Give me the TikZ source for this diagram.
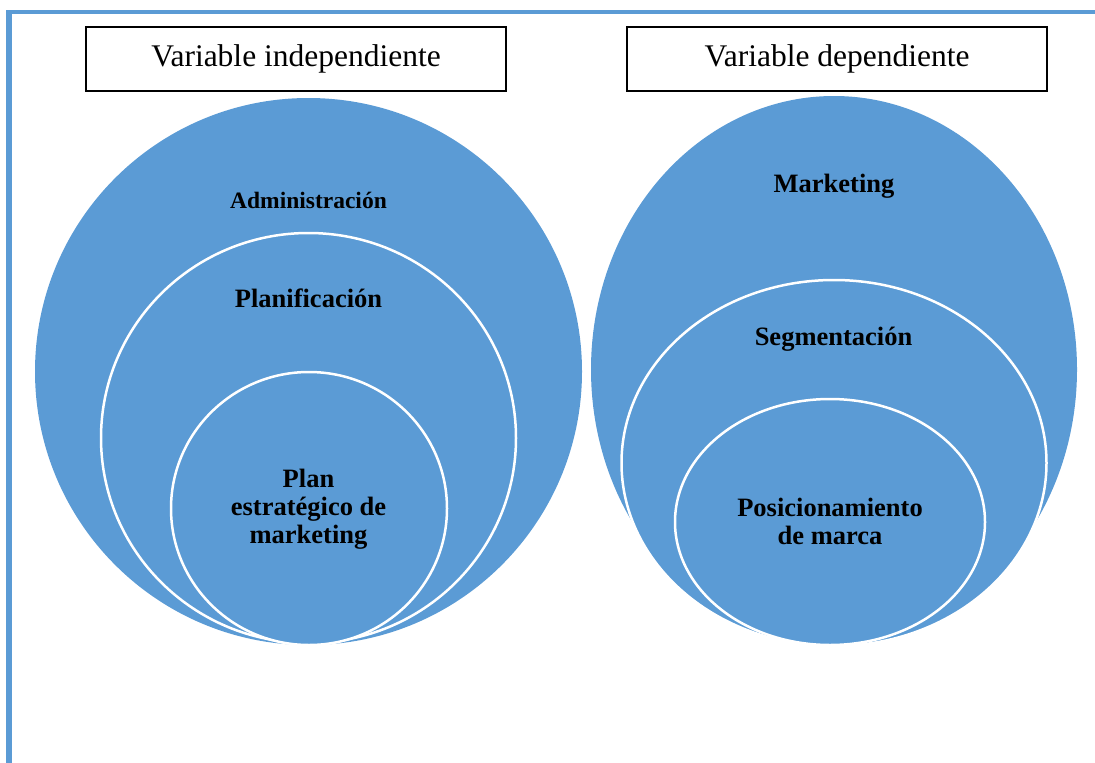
\documentclass[tikz,border=0pt]{standalone}
\usepackage{fontspec}
\setmainfont{Liberation Serif}
\usetikzlibrary{shapes.geometric}
\definecolor{officeblue}{HTML}{5B9BD5}
\tikzset{
  outerell/.style={ellipse, fill=officeblue, draw=none, inner sep=0pt, outer sep=0pt},
  innerell/.style={ellipse, fill=officeblue, draw=white, line width=2.5pt, inner sep=0pt, outer sep=0pt},
  varbox/.style={draw=black, line width=1.5pt, inner sep=0pt, outer sep=0pt, minimum width=420pt, minimum height=64pt, font=\fontsize{31.5}{34}\selectfont},
  bigtxt/.style={font=\bfseries\fontsize{26.5}{28}\selectfont, align=center, inner sep=0pt},
  smalltxt/.style={font=\bfseries\fontsize{23.5}{26}\selectfont, align=center, inner sep=0pt}
}
\begin{document}
\begin{tikzpicture}[x=1pt,y=-1pt]
\useasboundingbox (0,0) rectangle (1095,763);
% frame lines
\fill[officeblue] (6,9.5) rectangle (1095,14);
\fill[officeblue] (6,9.5) rectangle (12,763);
% header boxes
\node[varbox] (vi) at (296,59) {Variable independiente};
\node[varbox] (vd) at (837,59) {Variable dependiente};
% left circles
\node[outerell, minimum width=547pt, minimum height=547pt] (adm) at (308.5,371.5) {};
\node[innerell, minimum width=415pt, minimum height=410pt] (pla) at (308.5,438) {};
\node[innerell, minimum width=276pt, minimum height=273pt] (pem) at (309,508.5) {};
% right circles
\node[outerell, minimum width=486pt, minimum height=547pt] (mkt) at (834,369.5) {};
\node[innerell, minimum width=425pt, minimum height=366pt] (seg) at (834,463) {};
\node[innerell, minimum width=310pt, minimum height=246pt] (pos) at (830,522) {};
% labels
\node[smalltxt] (tadm) at (308.5,200) {Administración};
\node[bigtxt] (tpla) at (308.5,298) {Planificación};
\node[bigtxt] (tpem) at (308.5,509) {Plan\\estratégico de\\marketing};
\node[bigtxt] (tmkt) at (834,186.5) {Marketing};
\node[bigtxt] (tseg) at (833.5,339) {Segmentación};
\node[bigtxt] (tpos) at (830,521) {Posicionamiento\\de marca};
\end{tikzpicture}
\end{document}
